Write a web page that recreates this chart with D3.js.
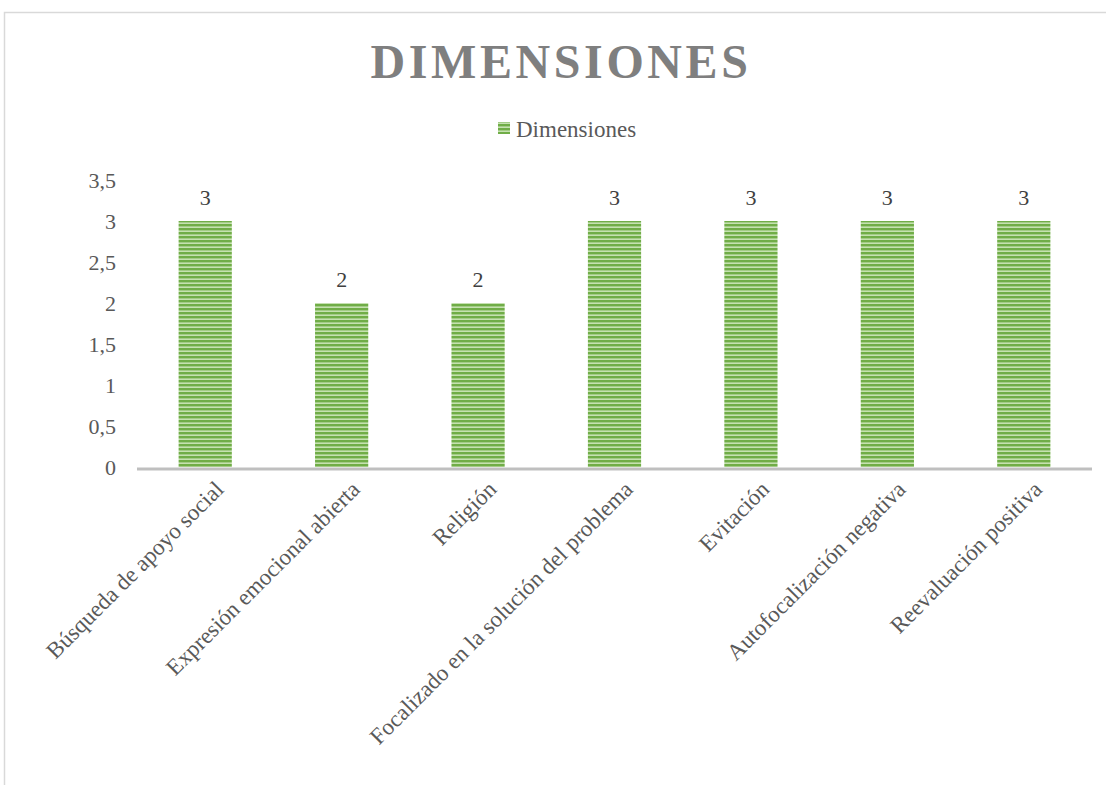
<!DOCTYPE html>
<html>
<head>
<meta charset="utf-8">
<script src="https://cdn.jsdelivr.net/npm/d3@7"></script>
<style>
  html, body { margin: 0; padding: 0; background: #fff; }
  svg { display: block; }
</style>
</head>
<body>
<svg id="chart" width="1106" height="785"></svg>
<script>
const categories = [
  "Búsqueda de apoyo social",
  "Expresión emocional abierta",
  "Religión",
  "Focalizado en la solución del problema",
  "Evitación",
  "Autofocalización negativa",
  "Reevaluación positiva"
];
const values = [3, 2, 2, 3, 3, 3, 3];
const yTicks = [0, 0.5, 1, 1.5, 2, 2.5, 3, 3.5];
const seriesName = "Dimensiones";
const titleText = "DIMENSIONES";

const svg = d3.select("#chart");
const W = 1106, H = 785;
const font = "'Liberation Serif', 'Times New Roman', serif";

// frame
svg.append("path")
  .attr("d", `M4.5,${H} V12.5 H${W}`)
  .attr("fill", "none").attr("stroke", "#D9D9D9").attr("stroke-width", 1.5);

// pattern
const defs = svg.append("defs");
const pat = defs.append("pattern").attr("id", "stripes")
  .attr("patternUnits", "userSpaceOnUse").attr("width", 8).attr("height", 4);
pat.append("rect").attr("width", 8).attr("height", 4).attr("fill", "#C5E1B0");
pat.append("rect").attr("y", 0).attr("width", 8).attr("height", 2.4).attr("fill", "#70AD47");

const plot = { left: 137, right: 1092, top: 180, bottom: 467 };

const x = d3.scaleBand().domain(categories).range([plot.left, plot.right]).paddingInner(0.61).paddingOuter(0.305);
const y = d3.scaleLinear().domain([0, 3.5]).range([plot.bottom, plot.top]);

// title
svg.append("text")
  .attr("x", 561).attr("y", 78)
  .attr("text-anchor", "middle")
  .attr("font-family", font).attr("font-weight", "bold")
  .attr("font-size", 48).attr("letter-spacing", 3.6)
  .attr("fill", "#7F7F7F")
  .text(titleText);

// legend
svg.append("rect").attr("x", 498).attr("y", 122).attr("width", 12).attr("height", 12)
  .attr("fill", "url(#stripes)");
svg.append("text").attr("x", 516).attr("y", 137)
  .attr("font-family", font).attr("font-size", 23).attr("fill", "#595959")
  .text(seriesName);

// y axis labels
const yAxis = d3.axisLeft(y).tickValues(yTicks).tickSize(0).tickPadding(0)
  .tickFormat(d => String(d).replace(".", ","));
const yg = svg.append("g").attr("transform", "translate(116,0)").call(yAxis);
yg.select(".domain").remove();
yg.selectAll("text").attr("font-family", font).attr("font-size", 22).attr("fill", "#595959")
  .attr("dy", "0.35em");

// bars
svg.append("g").selectAll("rect").data(values).join("rect")
  .attr("x", (d, i) => x(categories[i]))
  .attr("y", d => y(d))
  .attr("width", x.bandwidth())
  .attr("height", d => y(0) - y(d))
  .attr("fill", "url(#stripes)");

// data labels
svg.append("g").selectAll("text").data(values).join("text")
  .attr("x", (d, i) => x(categories[i]) + x.bandwidth() / 2)
  .attr("y", d => y(d) - 16)
  .attr("text-anchor", "middle")
  .attr("font-family", font).attr("font-size", 22).attr("fill", "#404040")
  .text(d => d);

// x axis line
const xAxis = d3.axisBottom(x).tickSize(0).tickPadding(0);
const xg = svg.append("g").attr("transform", `translate(0,${plot.bottom})`).call(xAxis);
xg.select(".domain").attr("stroke", "#BFBFBF").attr("stroke-width", 3)
  .attr("d", `M${plot.left},2V2H${plot.right}`);
xg.selectAll(".tick text")
  .attr("font-family", font).attr("font-size", 23).attr("fill", "#595959")
  .attr("text-anchor", "end")
  .attr("dy", "0.35em")
  .attr("transform", "translate(14,18) rotate(-45)");
</script>
</body>
</html>
